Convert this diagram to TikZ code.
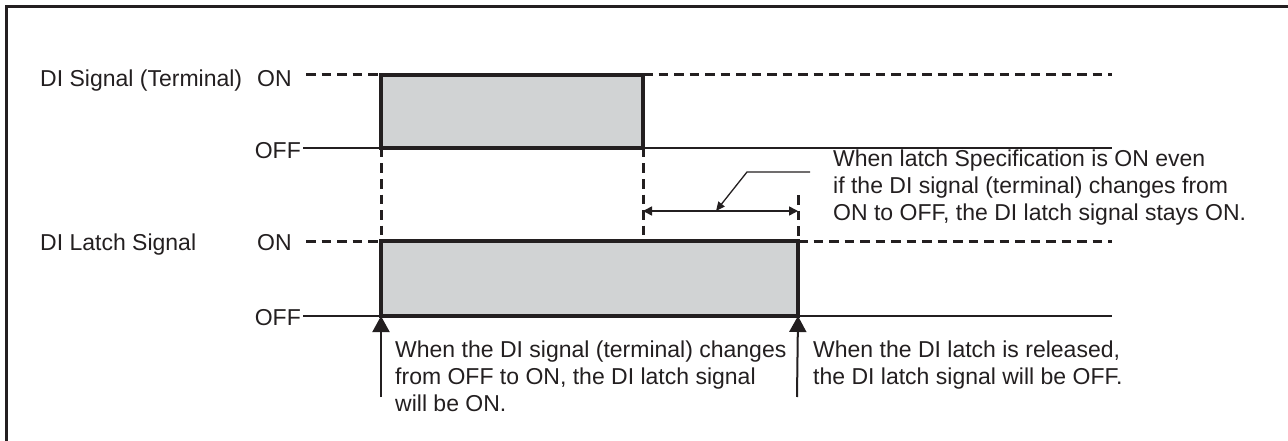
\documentclass[tikz,border=0pt]{standalone}
\usepackage{fontspec}
\setmainfont{Liberation Sans}
\usetikzlibrary{arrows.meta}
\definecolor{ink}{HTML}{231F20}
\definecolor{pulsefill}{HTML}{D1D3D4}
\begin{document}
\begin{tikzpicture}[x=1pt,y=-1pt,
  lbl/.style={font=\fontsize{23}{27}\selectfont, text=ink, inner sep=0pt, align=left},
  level/.style={draw=ink, line width=2pt},
  dashln/.style={draw=ink, line width=3pt, dash pattern=on 9.5pt off 6pt},
  pulsebox/.style={draw=ink, fill=pulsefill, line width=3.5pt},
  bigarrow/.style={draw=ink, line width=2pt, -{Triangle[length=16pt,width=17pt]}},
  dimarrow/.style={draw=ink, line width=1.6pt, {Triangle[length=9pt,width=9pt]}-{Triangle[length=9pt,width=9pt]}},
  leader/.style={draw=ink, line width=1.3pt, -{Triangle[length=9pt,width=8pt]}},
  frameln/.style={draw=ink, line width=3pt}
]
\useasboundingbox (0,0) rectangle (1288,441);
% frame
\coordinate (fb) at (6,445);
\coordinate (fc) at (6,7);
\coordinate (fr) at (1292,7);
\draw[frameln] (fb) -- (fc) -- (fr);

% labels
\node[lbl, anchor=base west] (s1name) at (40,87) {DI Signal (Terminal)};
\node[lbl, anchor=base west] (s1on) at (257,87) {ON};
\node[lbl, anchor=base east] (s1off) at (301,159) {OFF};
\node[lbl, anchor=base west] (s2name) at (40,250) {DI Latch Signal};
\node[lbl, anchor=base west] (s2on) at (257,250) {ON};
\node[lbl, anchor=base east] (s2off) at (301,325) {OFF};

% coordinates
\coordinate (on1a) at (306,75);
\coordinate (r1) at (381,75);
\coordinate (f1) at (643,75);
\coordinate (on1e) at (1112,75);
\coordinate (off1a) at (303,148);
\coordinate (r1b) at (381,148);
\coordinate (f1b) at (643,148);
\coordinate (off1e) at (1112,148);

\coordinate (on2a) at (306,241);
\coordinate (r2) at (381,241);
\coordinate (f2) at (798,241);
\coordinate (on2e) at (1112,241);
\coordinate (off2a) at (303,316);
\coordinate (r2b) at (381,316);
\coordinate (f2b) at (798,316);
\coordinate (off2e) at (1112,316);

% signal 1
\draw[level] (off1a) -- (off1e);
\draw[dashln] (on1a) -- (r1);
\draw[dashln] (f1) -- (on1e);
\draw[pulsebox] (r1) rectangle (f1b);

% signal 2
\draw[level] (off2a) -- (off2e);
\draw[dashln] (on2a) -- (r2);
\draw[dashln] (f2) -- (on2e);
\draw[pulsebox] (r2) rectangle (f2b);

% vertical dashed guides
\coordinate (g2top) at (643,235);
\coordinate (g3top) at (798,195);
\draw[dashln] (r1b) -- (r2);
\draw[dashln] (f1b) -- (g2top);
\draw[dashln] (g3top) -- (f2);

% dimension arrow
\coordinate (dl) at (643,211);
\coordinate (dr) at (798,211);
\draw[dimarrow] (dl) -- (dr);
\coordinate (lp) at (716,211);
\coordinate (lk) at (747,172);
\coordinate (le) at (810,172);
\draw[leader] (le) -- (lk) -- (lp);

% bottom arrows
\coordinate (a1s) at (381,397);
\coordinate (a2s) at (797,397);
\draw[bigarrow] (a1s) -- (r2b);
\draw[bigarrow] (a2s) -- (f2b);

% notes
\node[lbl, anchor=north west] (note1) at (833,150) {When latch Specification is ON even\\if the DI signal (terminal) changes from\\ON to OFF, the DI latch signal stays ON.};
\node[lbl, anchor=north west] (note2) at (395,341) {When the DI signal (terminal) changes\\from OFF to ON, the DI latch signal\\will be ON.};
\node[lbl, anchor=north west] (note3) at (813,341) {When the DI latch is released,\\the DI latch signal will be OFF.};
\end{tikzpicture}
\end{document}
